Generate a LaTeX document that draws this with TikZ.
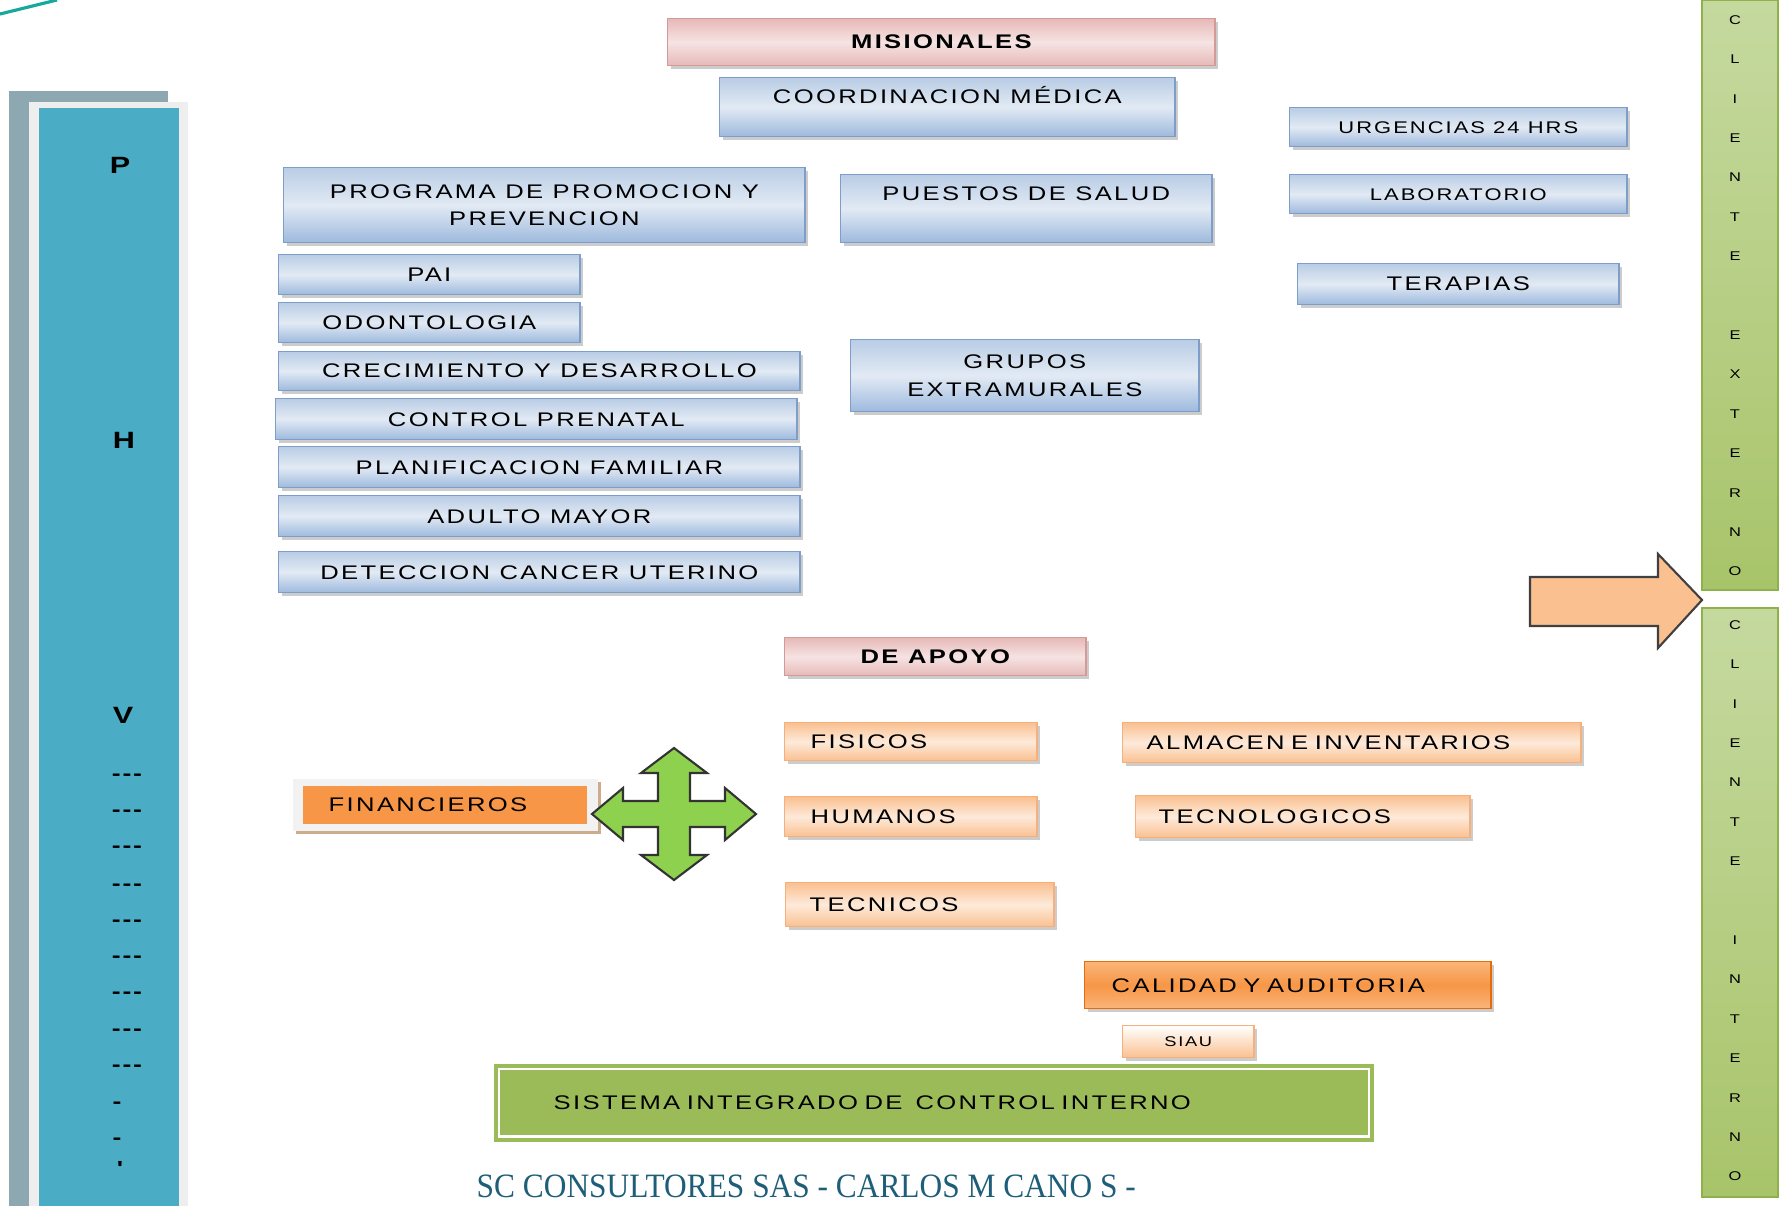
\documentclass[tikz,border=0pt]{standalone}
\usepackage{fontspec}
\newfontfamily\boxfont[FakeStretch=1.3,LetterSpace=12]{Liberation Sans}
\newfontfamily\sidefont[FakeStretch=1.3,Ligatures=TeXOff]{Liberation Sans}
\newfontfamily\footfont[FakeStretch=0.92]{Liberation Serif}
\usetikzlibrary{shadows}

\definecolor{blutop}{HTML}{B9CDE5}
\definecolor{blumid}{HTML}{E2EAF4}
\definecolor{blubot}{HTML}{9DB9DD}
\definecolor{bluedge}{HTML}{7F9DC9}
\definecolor{pinktop}{HTML}{E6B9B8}
\definecolor{pinkmid}{HTML}{F6E3E3}
\definecolor{pinkedge}{HTML}{D49A98}
\definecolor{peachtop}{HTML}{FAC090}
\definecolor{peachmid}{HTML}{FDEADA}
\definecolor{peachedge}{HTML}{F5B07C}
\definecolor{orgtop}{HTML}{FAB57A}
\definecolor{orgmid}{HTML}{F79646}
\definecolor{orgedge}{HTML}{E46C0A}
\definecolor{finframe}{HTML}{F2F2F2}
\definecolor{finshadow}{HTML}{C8A482}
\definecolor{grnarrow}{HTML}{8ED14F}
\definecolor{barlight}{HTML}{C5D99F}
\definecolor{bardark}{HTML}{A8C46A}
\definecolor{baredge}{HTML}{8FB14C}
\definecolor{sicgreen}{HTML}{9BBB59}
\definecolor{colgray}{HTML}{8EA8B1}
\definecolor{colframe}{HTML}{EEEEEE}
\definecolor{colblue}{HTML}{4BACC6}
\definecolor{tealline}{HTML}{17A99B}
\definecolor{foottext}{HTML}{1E5E79}

\tikzset{
	box/.style={anchor=north west, inner sep=0pt, line width=0.4pt,
		drop shadow={shadow xshift=0.8pt, shadow yshift=-0.8pt, opacity=0.4}},
	blubox/.style={box, draw=bluedge, top color=blutop, bottom color=blubot, middle color=blumid,
		font=\boxfont\fontsize{5.6}{7.9}\selectfont},
	smalltext/.style={font=\boxfont\fontsize{4.8}{6}\selectfont},
	pinkbox/.style={box, draw=pinkedge, top color=pinktop, bottom color=pinktop, middle color=pinkmid,
		font=\boxfont\bfseries\fontsize{5.6}{7}\selectfont},
	peachbox/.style={box, draw=peachedge, top color=peachtop, bottom color=peachtop, middle color=peachmid,
		font=\boxfont\fontsize{5.6}{7}\selectfont, align=left},
	orgbox/.style={box, draw=orgedge, top color=orgtop, bottom color=orgtop, middle color=orgmid,
		font=\boxfont\fontsize{5.6}{7}\selectfont, align=left},
	siaubox/.style={box, draw=peachedge, top color=white, bottom color=peachtop,
		font=\boxfont\fontsize{4}{5}\selectfont},
	finbox/.style={anchor=north west, inner sep=0pt, fill=orgmid,
		font=\boxfont\fontsize{5.6}{7}\selectfont, align=left},
	sicbox/.style={anchor=north west, inner sep=0pt, fill=sicgreen,
		font=\boxfont\fontsize{5.6}{7}\selectfont, align=left},
	sideletter/.style={font=\sidefont\bfseries\fontsize{6.7}{8}\selectfont, inner sep=0pt},
	sidedash/.style={font=\sidefont\bfseries\fontsize{5.8}{7}\selectfont, inner sep=0pt},
	barletter/.style={font=\sidefont\fontsize{3.6}{4}\selectfont, inner sep=0pt},
	greenbar/.style={draw=baredge, line width=0.6pt, top color=barlight, bottom color=bardark},
}

\begin{document}
\begin{tikzpicture}[x=0.01cm, y=-0.01cm]
\useasboundingbox (0,0) rectangle (1779,1206);
\fill[white] (0,0) rectangle (1779,1206);

	% corner stroke
\draw[tealline, line width=0.9pt] (0,14) -- (57,0);

	% left column
\fill[colgray] (9,91) rectangle (168,1206);
\fill[colframe] (29,102) rectangle (188,1206);
\fill[colblue] (39,108) rectangle (179,1206);
\path
	(120,165) node[sideletter] (lp) {P}
	(124,440) node[sideletter] (lh) {H}
	(123,715) node[sideletter] (lv) {V}
	;
\foreach \yy [count=\i] in {777,813,849,887,923,959,995,1032,1068}
	\node[sidedash] (ld\i) at (127,\yy) {-\hspace{0.5pt}-\hspace{0.5pt}-};
\path
	(117,1105) node[sidedash] (le1) {-}
	(117,1141) node[sidedash] (le2) {-}
	(120,1168) node[sidedash] (le3) {'}
	;

	% right column
\draw[greenbar] (1702,0) rectangle (1778,590);
\draw[greenbar] (1702,608) rectangle (1778,1197);
\foreach \ch/\k in {C/0,L/1,I/2,E/3,N/4,T/5,E/6,E/8,X/9,T/10,E/11,R/12,N/13,O/14}
	\node[barletter] (ext\k) at (1735,20+39.4*\k) {\ch};
\foreach \ch/\k in {C/0,L/1,I/2,E/3,N/4,T/5,E/6,I/8,N/9,T/10,E/11,R/12,N/13,O/14}
	\node[barletter] (int\k) at (1735,625+39.4*\k) {\ch};
\draw[fill=peachtop, draw=black!75, line width=0.6pt]
	(1530,577) -- (1658,577) -- (1658,554) -- (1702,600) -- (1658,648) -- (1658,626) -- (1530,626) -- cycle;

	% misionales
\path
	(667,18) node[pinkbox, minimum width=5.47cm, minimum height=4.7mm] (misionales) {MISIONALES}
	(719,77) node[blubox, minimum width=4.55cm, minimum height=5.9mm, text height=2.55mm, text depth=3.35mm] (coordinacion) {COORDINACION MÉDICA}
	(283,167) node[blubox, minimum width=5.21cm, minimum height=7.5mm, align=center] (promocion) {PROGRAMA DE PROMOCION Y\\PREVENCION}
	(840,174) node[blubox, minimum width=3.71cm, minimum height=6.8mm, text height=2.55mm, text depth=4.25mm] (puestos) {PUESTOS DE SALUD}
	(1289,107) node[blubox, smalltext, minimum width=3.37cm, minimum height=3.9mm] (urgencias) {URGENCIAS 24 HRS}
	(1289,174) node[blubox, smalltext, minimum width=3.37cm, minimum height=3.9mm] (laboratorio) {LABORATORIO}
	(1297,263) node[blubox, minimum width=3.21cm, minimum height=4.1mm] (terapias) {TERAPIAS}
	(850,339) node[blubox, minimum width=3.48cm, minimum height=7.2mm, align=center] (grupos) {GRUPOS\\EXTRAMURALES}
	;

	% programas
\path
	(278,254) node[blubox, minimum width=3.01cm, minimum height=4mm] (pai) {PAI}
	(278,302) node[blubox, minimum width=3.01cm, minimum height=4mm] (odonto) {ODONTOLOGIA}
	(278,351) node[blubox, minimum width=5.21cm, minimum height=3.9mm] (crecimiento) {CRECIMIENTO Y DESARROLLO}
	(275,398) node[blubox, minimum width=5.21cm, minimum height=4.1mm] (prenatal) {CONTROL PRENATAL}
	(278,446) node[blubox, minimum width=5.21cm, minimum height=4.1mm] (planificacion) {PLANIFICACION FAMILIAR}
	(278,495) node[blubox, minimum width=5.21cm, minimum height=4.1mm] (adulto) {ADULTO MAYOR}
	(278,551) node[blubox, minimum width=5.21cm, minimum height=4.1mm] (cancer) {DETECCION CANCER UTERINO}
	;

	% de apoyo
\path
	(784,637) node[pinkbox, minimum width=3.01cm, minimum height=3.8mm] (apoyo) {DE APOYO}
	(784,722) node[peachbox, minimum height=3.8mm, inner xsep=2.6mm, text width=2cm] (fisicos) {FISICOS}
	(784,796) node[peachbox, minimum height=4mm, inner xsep=2.6mm, text width=2cm] (humanos) {HUMANOS}
	(785,882) node[peachbox, minimum height=4.4mm, inner xsep=2.4mm, text width=2.2cm] (tecnicos) {TECNICOS}
	(1122,722) node[peachbox, minimum height=4mm, inner xsep=2.4mm, text width=4.1cm] (almacen) {ALMACEN E INVENTARIOS}
	(1135,795) node[peachbox, minimum height=4.2mm, inner xsep=2.3mm, text width=2.88cm] (tecnologicos) {TECNOLOGICOS}
	(1084,961) node[orgbox, minimum height=4.7mm, inner xsep=2.7mm, text width=3.52cm] (calidad) {CALIDAD Y AUDITORIA}
	(1122,1025) node[siaubox, minimum width=1.31cm, minimum height=3.2mm] (siau) {SIAU}
	;

	% financieros
\fill[finframe, drop shadow={shadow xshift=0.8pt, shadow yshift=-0.8pt, fill=finshadow, opacity=0.9}]
	(293,779) rectangle (598,831);
\node[finbox, minimum height=3.8mm, inner xsep=2.6mm, text width=2.32cm] (financieros) at (302,785) {FINANCIEROS};
\begin{scope}[shift={(674,814)}]
\draw[fill=grnarrow, draw=black!80, line width=0.6pt]
	(0,-66) -- (33,-41) -- (16,-41) -- (16,-13) -- (51,-13) -- (51,-26) -- (82,0)
	-- (51,26) -- (51,13) -- (16,13) -- (16,41) -- (33,41) -- (0,66)
	-- (-33,41) -- (-16,41) -- (-16,13) -- (-51,13) -- (-51,26) -- (-82,0)
	-- (-51,-26) -- (-51,-13) -- (-16,-13) -- (-16,-41) -- (-33,-41) -- cycle;
\end{scope}

	% control interno
\node[sicbox, minimum height=7.8mm, inner xsep=6mm, text width=7.6cm] (sistema) at (493,1063) {SISTEMA INTEGRADO DE\ \ CONTROL\ INTERNO};
\draw[white, line width=0.8pt] ([shift={(6,6)}]sistema.north west) rectangle ([shift={(-6,-6)}]sistema.south east);

\node[anchor=base west, inner sep=0pt, text=foottext, font=\footfont\fontsize{9.7}{11}\selectfont] (pie) at (476,1197) {SC CONSULTORES SAS - CARLOS M CANO S -};
\end{tikzpicture}
\end{document}
